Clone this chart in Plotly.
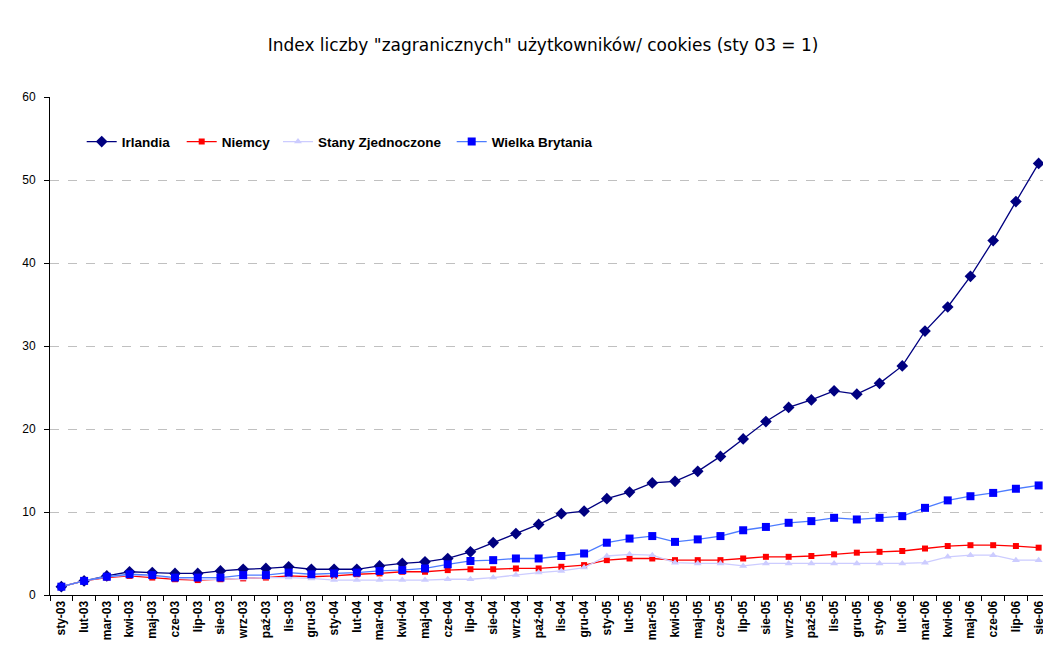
import plotly.graph_objects as go

months = ["sty", "lut", "mar", "kwi", "maj", "cze", "lip", "sie", "wrz", "paź", "lis", "gru"]
categories = [f"{m}-{y:02d}" for y in (3, 4, 5, 6) for m in months][:44]

irlandia = [1.0, 1.7, 2.3, 2.8, 2.7, 2.6, 2.6, 2.9, 3.1, 3.2, 3.4, 3.1,
            3.1, 3.1, 3.5, 3.8, 4.0, 4.4, 5.2, 6.3, 7.4, 8.5, 9.8, 10.1,
            11.6, 12.4, 13.5, 13.7, 14.9, 16.7, 18.8, 20.9, 22.6, 23.5, 24.6, 24.2,
            25.5, 27.6, 31.8, 34.7, 38.4, 42.7, 47.4, 52.0]
niemcy = [1.0, 1.7, 2.1, 2.3, 2.1, 1.9, 1.8, 1.9, 2.0, 2.1, 2.3, 2.2,
          2.3, 2.5, 2.6, 2.8, 2.8, 3.0, 3.1, 3.1, 3.2, 3.2, 3.4, 3.6,
          4.2, 4.4, 4.4, 4.2, 4.2, 4.2, 4.4, 4.6, 4.6, 4.7, 4.9, 5.1,
          5.2, 5.3, 5.6, 5.9, 6.0, 6.0, 5.9, 5.7]
stany = [1.0, 1.7, 2.2, 2.4, 2.3, 2.0, 1.9, 1.9, 2.0, 2.1, 2.1, 2.0,
         1.8, 1.8, 1.8, 1.8, 1.8, 1.9, 1.9, 2.1, 2.4, 2.7, 2.9, 3.3,
         4.7, 4.9, 4.8, 3.9, 3.8, 3.8, 3.5, 3.8, 3.8, 3.8, 3.8, 3.8,
         3.8, 3.8, 3.9, 4.6, 4.8, 4.8, 4.2, 4.2]
wielka_brytania = [1.0, 1.7, 2.2, 2.5, 2.4, 2.1, 2.1, 2.1, 2.4, 2.4, 2.7, 2.5,
                   2.6, 2.7, 2.9, 3.0, 3.2, 3.7, 4.1, 4.2, 4.4, 4.4, 4.7, 5.0,
                   6.3, 6.8, 7.1, 6.4, 6.7, 7.1, 7.8, 8.2, 8.7, 8.9, 9.3, 9.1,
                   9.3, 9.5, 10.5, 11.4, 11.9, 12.3, 12.8, 13.2]

series = [
    ("Irlandia", irlandia, "#000080", "#000080", "diamond", 9, "legend", 0.0317),
    ("Niemcy", niemcy, "#FF0000", "#FF0000", "square", 6, "legend2", 0.1317),
    ("Stany Zjednoczone", stany, "#CCCCFF", "#CCCCFF", "triangle-up", 7, "legend3", 0.228),
    ("Wielka Brytania", wielka_brytania, "#4D7CFF", "#0000FF", "square", 8, "legend4", 0.4017),
]

FONT = "Liberation Sans, Arial, sans-serif"

fig = go.Figure()
legend_layouts = {}
for name, vals, lcol, mcol, sym, size, leg, lx in series:
    fig.add_trace(go.Scatter(
        x=categories, y=vals, name=name, mode="lines+markers",
        line=dict(color=lcol, width=1.3),
        marker=dict(symbol=sym, size=size, color=mcol, line=dict(width=0)),
        legend=leg,
    ))
    legend_layouts[leg] = dict(
        orientation="h", x=lx, xanchor="left", y=0.910, yanchor="middle",
        bgcolor="rgba(0,0,0,0)", itemwidth=30,
        font=dict(size=13.5, color="black", family=FONT, weight="bold"),
    )

# page body has an 8px margin; figure is sized/margined to compensate
fig.update_layout(
    width=1043, height=643,
    paper_bgcolor="white", plot_bgcolor="white",
    margin=dict(l=42, r=1, t=89, b=56),
    font=dict(family=FONT, color="black"),
    title=dict(text='Index liczby "zagranicznych" użytkowników/ cookies (sty 03 = 1)',
               x=0.513, xanchor="center", y=1 - 37 / 643, yanchor="middle",
               yref="container", font=dict(size=17, color="black", family="DejaVu Sans")),
    showlegend=True,
    **legend_layouts,
)
fig.update_xaxes(
    type="category", range=[-0.5, 43.5], tickangle=-90,
    tickfont=dict(size=12, weight="bold"),
    showline=True, linecolor="black", linewidth=1,
    ticks="outside", ticklen=5, tickcolor="black", tickson="boundaries",
    showgrid=False, zeroline=False,
)
fig.update_yaxes(
    range=[0, 60], dtick=10, tickfont=dict(size=12),
    showline=True, linecolor="black", linewidth=1,
    ticks="outside", ticklen=5, tickcolor="black", ticklabelstandoff=6,
    showgrid=True, gridcolor="#C0C0C0", griddash="dash", gridwidth=1,
    zeroline=False,
)

fig.write_html("out.html")
